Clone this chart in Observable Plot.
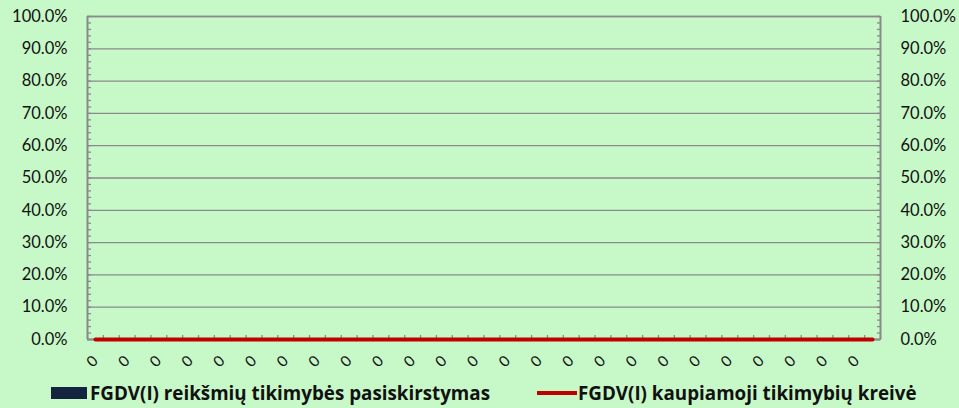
<!DOCTYPE html>
<html>
<head>
<meta charset="utf-8">
<script src="https://cdn.jsdelivr.net/npm/d3@7"></script>
<script src="https://cdn.jsdelivr.net/npm/@observablehq/plot@0.6"></script>
<style>
  html, body { margin: 0; padding: 0; }
  body { width: 959px; height: 408px; background: #c7f8c7; overflow: hidden; }
  #wrap { position: relative; width: 959px; height: 408px; background: #c7f8c7; font-family: Lato, "Open Sans", sans-serif; }
  #legend { position: absolute; left: 0; top: 370px; width: 959px; height: 38px; }
  .item { position: absolute; top: 10px; height: 26px; display: flex; align-items: center; font-family: "Open Sans", sans-serif; font-weight: bold; font-size: 18.8px; color: #111; white-space: nowrap; }
  .swatch-rect { width: 36px; height: 12px; background: #14243f; margin-right: 3px; }
  .swatch-line { width: 40px; height: 4px; background: #c00000; margin-right: 1px; }
</style>
</head>
<body>
<div id="wrap">
  <div id="chart"></div>
  <div id="legend"></div>
</div>
<script>
// Category labels (all read as "0" on the reference)
const categories = ["0","0","0","0","0","0","0","0","0","0","0","0","0","0","0","0","0","0","0","0","0","0","0","0","0","0","0","0","0","0","0","0","0","0","0","0","0","0","0","0","0","0","0","0","0","0","0","0","0","0"];
// Bar series: probability distribution of FGDV(I) values
const probabilities = [0,0,0,0,0,0,0,0,0,0,0,0,0,0,0,0,0,0,0,0,0,0,0,0,0,0,0,0,0,0,0,0,0,0,0,0,0,0,0,0,0,0,0,0,0,0,0,0,0,0];
// Line series: cumulative probability curve
const cumulative = [0,0,0,0,0,0,0,0,0,0,0,0,0,0,0,0,0,0,0,0,0,0,0,0,0,0,0,0,0,0,0,0,0,0,0,0,0,0,0,0,0,0,0,0,0,0,0,0,0,0];
// Y axis ticks
const yMajorTicks = [0, 0.1, 0.2, 0.3, 0.4, 0.5, 0.6, 0.7, 0.8, 0.9, 1.0];
const yMinorTicks = [0,0.02,0.04,0.06,0.08,0.1,0.12,0.14,0.16,0.18,0.2,0.22,0.24,0.26,0.28,0.3,0.32,0.34,0.36,0.38,0.4,0.42,0.44,0.46,0.48,0.5,0.52,0.54,0.56,0.58,0.6,0.62,0.64,0.66,0.68,0.7,0.72,0.74,0.76,0.78,0.8,0.82,0.84,0.86,0.88,0.9,0.92,0.94,0.96,0.98,1.0];
const legendLabels = ["FGDV(I) reikšmių tikimybės pasiskirstymas", "FGDV(I) kaupiamoji tikimybių kreivė"];

const n = categories.length;
const data = categories.map((c, i) => ({i, label: c, p: probabilities[i], c: cumulative[i]}));
const boundaries = d3.range(n + 1);
const labelTicks = data.filter(d => d.i % 2 === 0).map(d => d.i + 0.5);
const fmt = d3.format(".1%");
const grey = "#8a8a8a";
const blank = () => "";

const chart = Plot.plot({
  width: 959,
  height: 370,
  marginLeft: 87,
  marginRight: 79,
  marginTop: 16,
  marginBottom: 31,
  style: {background: "transparent", fontFamily: "Lato, 'Open Sans', sans-serif", fontSize: "16px", color: "#111"},
  x: {type: "linear", domain: [0, n]},
  y: {domain: [0, 1]},
  marks: [
    Plot.gridY(yMajorTicks, {stroke: grey, strokeOpacity: 1, strokeWidth: 1.3}),
    Plot.ruleX([0, n], {stroke: grey, strokeWidth: 2}),
    Plot.ruleY([1], {stroke: grey, strokeWidth: 1.3}),
    Plot.ruleY([0], {stroke: grey, strokeWidth: 2}),
    // minor ticks pointing inward
    Plot.axisY(yMinorTicks, {anchor: "left", tickSize: 4, dx: 4, tickFormat: blank, label: null, stroke: grey, strokeWidth: 1.3}),
    Plot.axisY(yMinorTicks, {anchor: "right", tickSize: 4, dx: -4, tickFormat: blank, label: null, stroke: grey, strokeWidth: 1.3}),
    Plot.axisX(boundaries, {anchor: "bottom", tickSize: 4, dy: -4, tickFormat: blank, label: null, stroke: grey, strokeWidth: 1.3}),
    // labels
    Plot.axisY(yMajorTicks, {anchor: "left", tickSize: 0, tickPadding: 20, tickFormat: fmt, fontSize: 16.5, fill: "#111", label: null}),
    Plot.axisY(yMajorTicks, {anchor: "right", tickSize: 0, tickPadding: 20, tickFormat: fmt, fontSize: 16.5, fill: "#111", label: null}),
    Plot.axisX(labelTicks, {anchor: "bottom", tickSize: 0, tickPadding: 19, tickRotate: -45, tickFormat: v => categories[Math.floor(v)], fontSize: 15, fill: "#111", label: null}),
    // series
    Plot.rectY(data, {x1: "i", x2: d => d.i + 1, y: "p", fill: "#14243f", insetLeft: 3, insetRight: 3}),
    Plot.line(data, {x: d => d.i + 0.5, y: "c", stroke: "#c00000", strokeWidth: 4})
  ]
});
document.getElementById("chart").appendChild(chart);

const legend = document.getElementById("legend");
legend.innerHTML = `
  <div class="item" style="left:51px"><div class="swatch-rect"></div><span>${legendLabels[0]}</span></div>
  <div class="item" style="left:537px"><div class="swatch-line"></div><span>${legendLabels[1]}</span></div>
`;
</script>
</body>
</html>
